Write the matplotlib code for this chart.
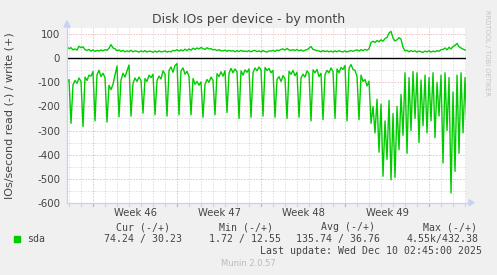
import numpy as np
import matplotlib.pyplot as plt
from matplotlib.lines import Line2D
from matplotlib.patches import Polygon, Rectangle

# samples every 4 hours, first one at Nov 6 20:00; time axis in days relative to Sun Dec 7 00:00
# each row = one day: 20:00, 00:00, 04:00, 08:00, 12:00, 16:00
read_rows = [
    [100, 88, 270, 110, 92, 104],
    [82, 96, 284, 78, 92, 70],
    [74, 55, 260, 68, 50, 76],
    [62, 80, 265, 112, 130, 108],
    [70, 32, 243, 90, 62, 78],
    [52, 28, 240, 104, 82, 96],
    [78, 92, 228, 84, 96, 70],
    [80, 66, 235, 92, 74, 86],
    [52, 66, 240, 50, 36, 58],
    [30, 22, 235, 52, 40, 66],
    [54, 76, 235, 84, 108, 96],
    [112, 98, 245, 108, 88, 100],
    [78, 92, 235, 64, 76, 56],
    [74, 52, 225, 62, 42, 60],
    [44, 56, 250, 52, 70, 48],
    [58, 44, 245, 60, 40, 52],
    [36, 48, 240, 38, 50, 42],
    [60, 50, 245, 88, 76, 96],
    [72, 86, 250, 54, 66, 50],
    [72, 58, 245, 82, 66, 78],
    [52, 64, 260, 48, 60, 46],
    [76, 62, 255, 68, 50, 60],
    [40, 54, 250, 44, 60, 38],
    [46, 30, 260, 42, 26, 46],
    [50, 76, 255, 70, 96, 88],
    [115, 95, 270, 200, 310, 170],
    [390, 190, 490, 260, 420, 175],
    [505, 230, 495, 200, 380, 150],
    [320, 60, 395, 80, 300, 55],
    [250, 60, 350, 90, 280, 70],
    [310, 80, 260, 60, 330, 100],
    [240, 70, 435, 60, 300, 80],
    [560, 140, 470, 70, 395, 60],
    [310, 80, 300],
]
write_rows = [
    [47, 40, 44, 35, 39, 34],
    [50, 44, 48, 36, 33, 37],
    [30, 35, 29, 33, 30, 35],
    [31, 36, 33, 42, 57, 43],
    [40, 31, 35, 29, 33, 27],
    [31, 28, 33, 27, 31, 29],
    [26, 31, 27, 32, 26, 30],
    [29, 25, 30, 26, 31, 27],
    [28, 31, 26, 29, 27, 33],
    [31, 36, 30, 35, 31, 38],
    [32, 39, 34, 42, 37, 43],
    [39, 45, 40, 37, 44, 39],
    [40, 35, 37, 32, 36, 31],
    [31, 34, 29, 33, 30, 32],
    [27, 32, 28, 33, 29, 30],
    [28, 32, 27, 31, 33, 28],
    [31, 27, 32, 28, 26, 31],
    [30, 33, 29, 34, 32, 37],
    [39, 34, 41, 35, 33, 36],
    [32, 37, 31, 35, 30, 34],
    [36, 42, 49, 37, 35, 31],
    [31, 27, 32, 28, 31, 27],
    [30, 26, 31, 27, 32, 28],
    [27, 31, 26, 30, 32, 29],
    [33, 35, 30, 36, 32, 37],
    [34, 39, 66, 71, 66, 74],
    [69, 77, 71, 82, 87, 105],
    [112, 84, 72, 77, 86, 80],
    [45, 31, 33, 27, 32, 28],
    [31, 26, 30, 27, 25, 30],
    [27, 31, 26, 30, 27, 32],
    [29, 36, 37, 43, 35, 46],
    [39, 49, 54, 62, 48, 43],
    [38, 35, 33],
]
week_labels = ['Week 46', 'Week 47', 'Week 48', 'Week 49']
week_starts = [-28, -21, -14, -7]
y_ticks = [100, 0, -100, -200, -300, -400, -500, -600]

t_start = -30 - 4 / 24
t_end = 3 + 2.75 / 24

read_ios = np.concatenate([np.array(r, float) for r in read_rows])
write_ios = np.concatenate([np.array(r, float) for r in write_rows])
t = t_start + np.arange(len(read_ios)) / 6

W, H = 497, 275
fig = plt.figure(figsize=(W / 100, H / 100), dpi=100)
fig.patch.set_facecolor('#F0F0F0')

# plot area in pixels
px_l, px_r, px_t, px_b = 67, 466.4, 28, 202.7
ax = fig.add_axes([px_l / W, 1 - px_b / H, (px_r - px_l) / W, (px_b - px_t) / H])
ax.set_facecolor('white')
ax.set_xlim(t_start, t_end)
ax.set_ylim(-600, 126)
for s in ax.spines.values():
    s.set_visible(False)

red_grid, gray_grid = '#E8A0A0', '#D0D0D0'
dot = (0, (1, 2))
# grid + little ticks under the x axis
xa = ax.get_xaxis_transform()
for d in range(-30, 4):
    c = red_grid if d % 7 == 0 else gray_grid
    ax.axvline(d, color=c, lw=0.72, ls=dot, zorder=1)
    ax.plot([d, d], [0, -0.02], color=c, lw=0.8, transform=xa, clip_on=False)
for v in range(-550, 126, 50):
    ax.axhline(v, color=red_grid if v % 100 == 0 else gray_grid, lw=0.72, ls=dot, zorder=1)
ax.axhline(0, color='black', lw=1.0, zorder=3)

ax.plot(t, write_ios, color='#00CC00', lw=1.0, zorder=4)
ax.plot(t, -read_ios, color='#00CC00', lw=1.0, zorder=4)

txt = '#444444'
ax.set_yticks(y_ticks)
ax.set_yticklabels([str(v) for v in y_ticks], fontsize=7.4, color=txt)
ax.set_xticks([s + 3.5 for s in week_starts])
ax.set_xticklabels(week_labels, fontsize=7.2, color=txt)
ax.tick_params(length=0, pad=5)
ax.tick_params(axis='x', pad=4)

# axes with arrows (rrdtool style)
ac = '#C8D0F8'
fig.add_artist(Line2D([px_l / W, 471 / W], [1 - px_b / H] * 2, color=ac, lw=0.9))
fig.add_artist(Line2D([px_l / W] * 2, [1 - px_b / H, 1 - 24 / H], color=ac, lw=0.9))
fig.add_artist(Polygon([[469 / W, 1 - 199.7 / H], [469 / W, 1 - 205.7 / H], [474 / W, 1 - px_b / H]],
                       closed=True, color=ac, transform=fig.transFigure))
fig.add_artist(Polygon([[64 / W, 1 - 27 / H], [70 / W, 1 - 27 / H], [px_l / W, 1 - 21 / H]],
                       closed=True, color=ac, transform=fig.transFigure))

fig.text(249 / W, 1 - 19 / H, 'Disk IOs per device - by month', ha='center', va='center',
         fontsize=9, color=txt)
fig.text(10 / W, 1 - 115.5 / H, 'IOs/second read (-) / write (+)', rotation=90,
         ha='center', va='center', fontsize=8, color=txt)
fig.text(487.5 / W, 1 - 53.5 / H, 'RRDTOOL / TOBI OETIKER', rotation=270,
         ha='center', va='center', fontsize=4.9, color='#C4C4C4')

mono = dict(family='DejaVu Sans Mono', fontsize=7.1, color=txt, va='center')
heads = [('Cur (-/+)', 116), ('Min (-/+)', 219), ('Avg (-/+)', 321), ('Max (-/+)', 422.7)]
vals = [('74.24 / 30.23', 104), ('1.72 / 12.55', 209), ('135.74 / 36.76', 296),
        ('4.55k/432.38', 406.7)]
for s, x in heads:
    fig.text(x / W, 1 - 227.5 / H, s, ha='left', **mono)
for s, x in vals:
    fig.text(x / W, 1 - 239.3 / H, s, ha='left', **mono)
fig.text(26.7 / W, 1 - 239.3 / H, 'sda', ha='left', **mono)
fig.add_artist(Rectangle((14 / W, 1 - 242 / H), 6 / W, 6 / H, color='#00CC00',
                         transform=fig.transFigure))
fig.text(482.3 / W, 1 - 251 / H, 'Last update: Wed Dec 10 02:45:00 2025', ha='right', **mono)
fig.text(248 / W, 1 - 264 / H, 'Munin 2.0.57', ha='center', va='center', fontsize=6,
         color='#BBBBBB')

fig.savefig('out.png', dpi=100, facecolor=fig.get_facecolor())
